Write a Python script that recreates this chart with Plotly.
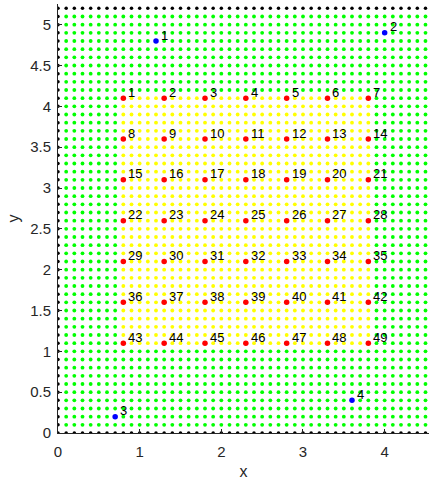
import numpy as np
import plotly.graph_objects as go

# ---- data ----
grid_step = 0.1
grid_x_max = 4.6
grid_y_max = 5.1
border_y_top = 5.2

yellow_x_range = [0.8, 3.8]
yellow_y_range = [1.1, 4.1]

red_cols = [0.8, 1.3, 1.8, 2.3, 2.8, 3.3, 3.8]
red_rows = [4.1, 3.6, 3.1, 2.6, 2.1, 1.6, 1.1]

blue_x = [1.2, 4.0, 0.7, 3.6]
blue_y = [4.8, 4.9, 0.2, 0.4]
blue_labels = ["1", "2", "3", "4"]

x_ticks = [0, 1, 2, 3, 4]
y_ticks = [0, 0.5, 1, 1.5, 2, 2.5, 3, 3.5, 4, 4.5, 5]

# ---- build point sets ----
xs = np.round(np.arange(0, grid_x_max + 1e-9, grid_step), 2)
ys = np.round(np.arange(0, border_y_top + 1e-9, grid_step), 2)

gx, gy, yx, yy, bx, by = [], [], [], [], [], []
for x in xs:
    for y in ys:
        if x == 0 or y == 0 or y == border_y_top:
            bx.append(x); by.append(y)
        elif yellow_x_range[0] <= x <= yellow_x_range[1] and yellow_y_range[0] <= y <= yellow_y_range[1]:
            yx.append(x); yy.append(y)
        else:
            gx.append(x); gy.append(y)

red_x, red_y, red_labels = [], [], []
k = 1
for ry in red_rows:
    for rx in red_cols:
        red_x.append(rx); red_y.append(ry); red_labels.append(str(k)); k += 1

fig = go.Figure()
fig.add_trace(go.Scatter(x=gx, y=gy, mode="markers",
                         marker=dict(color="#00FF00", size=3.8, line=dict(width=0)), hoverinfo="skip"))
fig.add_trace(go.Scatter(x=yx, y=yy, mode="markers",
                         marker=dict(color="#FFFF00", size=3.8, line=dict(width=0)), hoverinfo="skip"))
fig.add_trace(go.Scatter(x=red_x, y=red_y, mode="markers",
                         marker=dict(color="#FF0000", size=5.5, line=dict(width=0))))
fig.add_trace(go.Scatter(x=blue_x, y=blue_y, mode="markers",
                         marker=dict(color="#0000FF", size=5.5, line=dict(width=0))))
fig.add_trace(go.Scatter(x=bx, y=by, mode="markers",
                         marker=dict(color="black", size=3.5, line=dict(width=0)), hoverinfo="skip"))

lab_font = dict(family="Liberation Sans, Arial, sans-serif", size=13, color="black")
annotations = []
for x, y, t in list(zip(red_x, red_y, red_labels)) + list(zip(blue_x, blue_y, blue_labels)):
    annotations.append(dict(x=x, y=y, text=t, showarrow=False, xanchor="left", yanchor="middle",
                            xshift=3, yshift=6, font=lab_font))

axis_common = dict(showgrid=False, zeroline=False, showline=True, linecolor="#262626", linewidth=1,
                   ticks="inside", ticklen=4, tickcolor="#262626", mirror=False,
                   tickfont=dict(family="Liberation Sans, Arial, sans-serif", size=15, color="#262626"))

fig.update_layout(
    width=429, height=486,
    margin=dict(l=58, r=0, t=4, b=53),
    paper_bgcolor="white", plot_bgcolor="white",
    showlegend=False,
    annotations=annotations,
    xaxis=dict(range=[0, 4.543], tickvals=x_ticks, ticktext=[str(v) for v in x_ticks],
               ticklabelstandoff=5,
               title=dict(text="x", font=dict(family="Liberation Sans, Arial, sans-serif", size=16, color="#262626"), standoff=6),
               **axis_common),
    yaxis=dict(range=[0, 5.253], tickvals=y_ticks, ticktext=[f"{v:g}" for v in y_ticks],
               ticklabelstandoff=3,
               title=dict(text="y", font=dict(family="Liberation Sans, Arial, sans-serif", size=16, color="#262626"), standoff=6),
               **axis_common),
)

fig.write_html("out.html")
